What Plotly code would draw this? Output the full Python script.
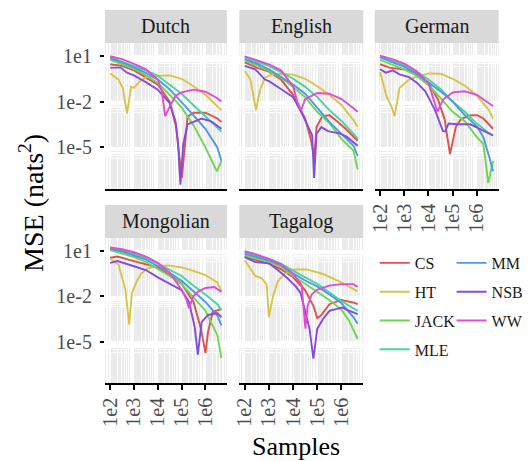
import plotly.graph_objects as go

W, H = 529, 461
FONT = "Liberation Serif"

LANGUAGES = ["Dutch", "English", "German", "Mongolian", "Tagalog"]
METHODS = ["CS", "HT", "JACK", "MLE", "MM", "NSB", "WW"]
COLORS = ["#E2504A", "#D9C446", "#6ED650", "#44D69E", "#4C9AE2", "#824CE2", "#E24CD2"]

X_TICKS = [1e2, 1e3, 1e4, 1e5, 1e6]
X_TICK_TEXT = ["1e2", "1e3", "1e4", "1e5", "1e6"]
Y_TICKS = [1e1, 1e-2, 1e-5]
Y_TICK_TEXT = ["1e1", "1e-2", "1e-5"]

# shared sample sizes (used by the smooth series)
GRID_N = [1e2, 3.16e2, 1e3, 3.16e3, 1e4, 3.16e4, 1e5, 3.16e5, 1e6, 3.16e6, 4.68e6]

# ---------------- Dutch ----------------
DUTCH_CS_N = [1e2, 3.16e2, 1e3, 3.16e3, 1e4, 3.16e4, 5.89e4, 1.02e5, 1.78e5, 3.16e5, 1e6, 3.16e6, 4.68e6]
DUTCH_CS_MSE = [2.75, 2.14, 1.10, 0.398, 0.129, 0.01, 2.14e-4, 1e-7, 1e-3, 1.86e-3, 1.86e-3, 7.76e-4, 4.68e-4]
DUTCH_HT_N = [1e2, 2.24e2, 3.39e2, 5.13e2, 7.59e2, 1e3, 1.78e3, 3.16e3, 1e4, 3.16e4, 1e5, 3.16e5, 1e6, 3.16e6, 4.68e6]
DUTCH_HT_MSE = [0.692, 0.275, 0.0776, 1.66e-3, 0.0912, 0.0776, 0.214, 0.380, 0.490, 0.513, 0.309, 0.1, 0.0275, 5.13e-3, 2.75e-3]
DUTCH_JACK_N = [1e2, 3.16e2, 1e3, 3.16e3, 1e4, 3.16e4, 1e5, 3.16e5, 1e6, 3.02e6, 4.68e6]
DUTCH_JACK_MSE = [5.37, 2.75, 1.35, 0.513, 0.166, 0.0275, 4.17e-3, 2.75e-4, 1e-5, 2.75e-7, 1.29e-6]
DUTCH_MLE_MSE = [7.76, 4.17, 2.29, 1.10, 0.490, 0.135, 0.0324, 5.75e-3, 1.05e-3, 1.86e-4, 1.10e-4]
DUTCH_MM_MSE = [6.61, 3.63, 1.74, 0.741, 0.275, 0.0631, 9.12e-3, 1.29e-3, 1.66e-4, 1e-5, 1.29e-6]
DUTCH_NSB_N = [1e2, 2.75e2, 5.13e2, 1e3, 3.16e3, 1e4, 3.16e4, 5.62e4, 7.08e4, 8.91e4, 1.17e5, 1.78e5, 3.16e5, 6.92e5, 1.74e6, 4.68e6]
DUTCH_NSB_MSE = [1.66, 1.66, 0.776, 0.513, 0.186, 0.0603, 7.76e-3, 4.68e-4, 1.66e-5, 3.63e-8, 1.66e-5, 3.24e-4, 4.68e-4, 7.76e-4, 5.13e-4, 1.66e-4]
DUTCH_WW_N = [1e2, 3.16e2, 1e3, 3.16e3, 1e4, 1.48e4, 2.04e4, 3.16e4, 5.62e4, 1e5, 3.16e5, 1e6, 3.16e6, 4.68e6]
DUTCH_WW_MSE = [9.12, 6.03, 2.95, 1.29, 0.275, 0.0468, 1.10e-3, 4.68e-3, 0.0240, 0.0398, 0.0603, 0.0437, 0.0166, 0.01]

# ---------------- English ----------------
ENGLISH_CS_N = [1e2, 3.16e2, 1e3, 3.16e3, 1e4, 3.16e4, 5.62e4, 7.41e4, 9.33e4, 1.58e5, 3.16e5, 5.89e5, 1.48e6, 4.68e6]
ENGLISH_CS_MSE = [3.63, 1.66, 0.912, 0.275, 0.0275, 7.76e-4, 2.75e-5, 1.66e-6, 2.14e-4, 1e-3, 1.29e-3, 6.03e-4, 1.66e-4, 2.75e-5]
ENGLISH_HT_N = [1e2, 1.74e2, 2.95e2, 4.37e2, 6.92e2, 1.29e3, 3.16e3, 1e4, 3.16e4, 1e5, 3.16e5, 1e6, 3.16e6, 4.68e6]
ENGLISH_HT_MSE = [1.0, 0.275, 2.75e-3, 0.0603, 0.363, 0.603, 0.631, 0.575, 0.309, 0.1, 0.0275, 6.03e-3, 6.03e-4, 2.14e-4]
ENGLISH_JACK_MSE = [4.68, 2.40, 1.0, 0.363, 0.0912, 0.0195, 2.14e-3, 3.98e-4, 3.63e-5, 6.03e-6, 3.63e-7]
ENGLISH_MLE_MSE = [7.76, 4.17, 2.14, 0.851, 0.309, 0.0912, 0.0195, 2.75e-3, 5.37e-4, 7.76e-5, 3.63e-5]
ENGLISH_MM_MSE = [6.03, 3.09, 1.29, 0.417, 0.129, 0.0324, 4.17e-3, 4.68e-4, 7.76e-5, 1.29e-5, 2.75e-6]
ENGLISH_NSB_N = [1e2, 2.75e2, 6.92e2, 1e3, 3.16e3, 1e4, 2.34e4, 4.37e4, 6.17e4, 7.41e4, 9.33e4, 1.48e5, 2.75e5, 4.37e5, 8.13e5, 1.74e6, 4.68e6]
ENGLISH_NSB_MSE = [2.14, 1.29, 0.275, 0.214, 0.0661, 0.0195, 1.66e-3, 2.14e-4, 6.03e-5, 1e-7, 7.76e-5, 2.14e-4, 1.17e-4, 1e-4, 8.51e-5, 4.68e-5, 1.29e-5]
ENGLISH_WW_N = [1e2, 3.16e2, 1e3, 3.16e3, 1e4, 1.48e4, 2.14e4, 3.16e4, 1e5, 3.16e5, 1e6, 3.16e6, 4.68e6]
ENGLISH_WW_MSE = [9.12, 5.13, 2.75, 1.10, 0.1, 0.01, 2.75e-3, 0.0145, 0.0363, 0.0324, 0.0145, 3.63e-3, 2.14e-3]

# ---------------- German ----------------
GERMAN_CS_N = [1e2, 2.51e2, 1e3, 3.16e3, 1e4, 2.51e4, 4.68e4, 7.76e4, 1.35e5, 2.14e5, 4.68e5, 1e6, 1.86e6, 4.68e6]
GERMAN_CS_MSE = [2.75, 1.66, 1.23, 0.776, 0.166, 0.0129, 6.61e-4, 3.63e-6, 2.14e-4, 6.61e-4, 1.23e-3, 1.29e-3, 7.76e-4, 1.66e-4]
GERMAN_HT_N = [1e2, 1.86e2, 2.95e2, 3.98e2, 6.31e2, 1e3, 1.58e3, 3.16e3, 1e4, 3.16e4, 1e5, 3.16e5, 1e6, 3.16e6, 4.68e6]
GERMAN_HT_MSE = [0.851, 0.0214, 4.68e-3, 1.10e-3, 0.0776, 0.151, 0.275, 0.417, 0.692, 0.661, 0.309, 0.110, 0.0240, 2.75e-3, 7.76e-4]
GERMAN_JACK_N = [1e2, 3.16e2, 1e3, 3.16e3, 1e4, 3.16e4, 1e5, 3.16e5, 1e6, 1.86e6, 2.95e6, 4.68e6]
GERMAN_JACK_MSE = [5.37, 2.75, 1.29, 0.513, 0.117, 0.0166, 2.14e-3, 5.13e-4, 4.68e-5, 1.66e-5, 4.68e-8, 1.29e-6]
GERMAN_MLE_MSE = [9.12, 4.68, 2.29, 0.955, 0.275, 0.0661, 0.01, 2.14e-3, 3.63e-4, 8.51e-5, 6.03e-5]
GERMAN_MM_N = [1e2, 3.16e2, 1e3, 3.16e3, 1e4, 3.16e4, 1e5, 3.16e5, 1e6, 1.86e6, 3.16e6, 4.68e6]
GERMAN_MM_MSE = [7.76, 3.98, 1.86, 0.661, 0.166, 0.0468, 0.01, 1.29e-3, 2.40e-4, 4.68e-5, 2.75e-6, 2.75e-7]
GERMAN_NSB_N = [1e2, 1.74e2, 3.39e2, 6.31e2, 1.58e3, 3.39e3, 7.41e3, 1.86e4, 3.98e4, 4.90e4, 6.76e4, 1.58e5, 5.37e5, 1.35e6, 2.51e6, 4.68e6]
GERMAN_NSB_MSE = [1.29, 0.776, 1.10, 0.603, 0.398, 0.166, 0.0468, 2.75e-3, 1.17e-4, 1.10e-4, 3.63e-4, 3.24e-4, 3.24e-4, 1.66e-4, 1e-4, 6.03e-5]
GERMAN_WW_N = [1e2, 3.16e2, 1e3, 3.16e3, 1e4, 1.58e4, 2.34e4, 3.98e4, 1e5, 3.16e5, 1e6, 3.16e6, 4.68e6]
GERMAN_WW_MSE = [10.0, 6.03, 3.09, 1.0, 0.166, 0.0129, 2.14e-3, 0.0129, 0.0398, 0.0468, 0.0275, 7.76e-3, 5.13e-3]

# ---------------- Mongolian ----------------
MONGOLIAN_CS_N = [1e2, 2.04e2, 1e3, 3.16e3, 1e4, 3.16e4, 1e5, 3.16e5, 6.46e5, 1e6, 1.29e6, 2.04e6, 4.68e6]
MONGOLIAN_CS_MSE = [3.39, 4.07, 2.04, 1.32, 0.776, 0.245, 0.0661, 4.17e-3, 7.24e-5, 1.78e-6, 4.47e-5, 9.33e-4, 1.41e-3]
MONGOLIAN_HT_N = [1e2, 2.24e2, 4.37e2, 6.31e2, 8.13e2, 1.29e3, 2.04e3, 3.72e3, 1e4, 3.16e4, 1e5, 3.16e5, 1e6, 3.16e6, 4.68e6]
MONGOLIAN_HT_MSE = [2.88, 1.20, 0.0269, 1.32e-4, 0.0148, 0.0933, 0.316, 0.661, 1.02, 1.02, 0.776, 0.468, 0.245, 0.0794, 0.0209]
MONGOLIAN_JACK_MSE = [11.0, 6.76, 3.72, 1.78, 0.603, 0.214, 0.0617, 7.94e-3, 1.10e-3, 2.69e-5, 8.51e-7]
MONGOLIAN_MLE_MSE = [14.8, 10.0, 6.17, 3.39, 1.38, 0.525, 0.214, 0.0490, 0.0129, 2.95e-3, 1.20e-3]
MONGOLIAN_MM_MSE = [12.9, 8.71, 4.79, 2.51, 0.933, 0.347, 0.102, 0.0209, 4.17e-3, 5.25e-4, 1.17e-4]
MONGOLIAN_NSB_N = [1e2, 2.04e2, 1e3, 3.16e3, 1e4, 3.16e4, 1e5, 2.04e5, 3.55e5, 4.79e5, 6.92e5, 1.29e6, 3.16e6, 4.68e6]
MONGOLIAN_NSB_MSE = [1.55, 2.04, 0.933, 0.525, 0.174, 0.0661, 0.0245, 4.17e-3, 9.33e-5, 1.41e-6, 1.95e-4, 5.75e-4, 7.76e-4, 4.07e-4]
MONGOLIAN_WW_N = [1e2, 3.16e2, 1e3, 3.16e3, 1e4, 3.16e4, 1e5, 1.58e5, 2.04e5, 3.16e5, 5.13e5, 1e6, 2.34e6, 4.68e6]
MONGOLIAN_WW_MSE = [16.2, 12.3, 7.76, 4.07, 1.55, 0.347, 0.0269, 6.17e-3, 1.62e-3, 0.01, 0.0209, 0.0347, 0.0398, 0.0191]

# ---------------- Tagalog ----------------
TAGALOG_CS_N = [1e2, 3.16e2, 1e3, 3.16e3, 1e4, 3.16e4, 6.92e4, 1e5, 1.48e5, 3.16e5, 1e6, 3.16e6, 4.68e6]
TAGALOG_CS_MSE = [4.07, 2.29, 1.38, 0.603, 0.174, 0.0245, 2.29e-3, 3.55e-4, 5.75e-4, 2.95e-3, 5.62e-3, 3.72e-3, 2.95e-3]
TAGALOG_HT_N = [1e2, 2.75e2, 5.13e2, 8.13e2, 1e3, 1.48e3, 2.34e3, 4.37e3, 1.10e4, 3.72e4, 1.74e5, 8.13e5, 4.68e6]
TAGALOG_HT_MSE = [2.29, 0.214, 0.151, 0.0562, 4.07e-4, 0.01, 0.0933, 0.288, 0.575, 0.575, 0.288, 0.0933, 0.0209]
TAGALOG_JACK_N = [1e2, 3.16e2, 1e3, 3.16e3, 1e4, 3.16e4, 1e5, 3.16e5, 1e6, 2.04e6, 4.68e6]
TAGALOG_JACK_MSE = [4.79, 2.88, 1.78, 0.851, 0.214, 0.0661, 0.0191, 5.62e-3, 1.26e-3, 2.51e-4, 1.51e-5]
TAGALOG_MLE_MSE = [7.76, 4.79, 2.88, 1.38, 0.468, 0.174, 0.0661, 0.0182, 4.79e-3, 1.55e-3, 1.10e-3]
TAGALOG_MM_MSE = [6.17, 3.72, 2.29, 1.10, 0.316, 0.107, 0.0437, 0.0129, 3.39e-3, 4.07e-4, 1.51e-4]
TAGALOG_NSB_N = [1e2, 2.75e2, 1e3, 2.34e3, 5.89e3, 1.29e4, 2.04e4, 3.24e4, 4.79e4, 6.92e4, 1e5, 1.74e5, 3.24e5, 5.89e5, 1.10e6, 2.04e6, 4.68e6]
TAGALOG_NSB_MSE = [3.72, 1.78, 1.45, 0.525, 0.151, 0.0437, 0.0166, 8.51e-4, 7.24e-5, 7.76e-7, 7.24e-5, 3.16e-4, 1.10e-3, 1.41e-3, 1.78e-3, 1.10e-3, 6.61e-4]
TAGALOG_WW_N = [1e2, 3.16e2, 1e3, 3.16e3, 1e4, 2.24e4, 3.24e4, 3.98e4, 5.89e4, 1e5, 3.16e5, 1e6, 3.16e6, 4.68e6]
TAGALOG_WW_MSE = [9.12, 5.50, 2.88, 1.26, 0.288, 0.0562, 7.24e-5, 2.29e-3, 0.0129, 0.0269, 0.0490, 0.0617, 0.0617, 0.0398]

# ------------------------------------------------------------------
g = globals()
SERIES = {}
for lang in LANGUAGES:
    for m in METHODS:
        key = f"{lang.upper()}_{m}"
        SERIES[(lang, m)] = (g.get(key + "_N", GRID_N), g[key + "_MSE"])

# panel geometry (pixels)
COLS = [(103, 230), (243, 372), (384, 513)]
ROWS = [(43, 189), (238, 383)]
STRIP_H = 33
X_RANGE = [1.78, 6.9]
Y_RANGE = [-7.72, 1.83]

MINOR_X = [m * 10 ** k for k in range(1, 7) for m in range(2, 10)]
MINOR_Y = [m * 10.0 ** k for k in (0, -3, -6) for m in range(2, 10)]

fig = go.Figure()

for i, lang in enumerate(LANGUAGES):
    sfx = "" if i == 0 else str(i + 1)
    for j, m in enumerate(METHODS):
        n, mse = SERIES[(lang, m)]
        fig.add_trace(go.Scatter(
            x=n, y=mse, mode="lines", name=m,
            line=dict(color=COLORS[j], width=1.9),
            xaxis="x" + sfx, yaxis="y" + sfx,
            legendgroup=m, showlegend=(i == 0),
            legend="legend" if j < 4 else "legend2",
        ))

layout = dict(
    width=W, height=H,
    margin=dict(l=0, r=0, t=0, b=0),
    paper_bgcolor="white", plot_bgcolor="#EBEBEB",
    font=dict(family=FONT, color="#1A1A1A"),
    shapes=[], annotations=[],
)

for i, lang in enumerate(LANGUAGES):
    r, c = divmod(i, 3)
    x0, x1 = COLS[c]
    y0, y1 = ROWS[r]
    sfx = "" if i == 0 else str(i + 1)
    show_x = i >= 2
    show_y = c == 0
    layout["xaxis" + sfx] = dict(
        domain=[x0 / W, x1 / W], anchor="y" + sfx, type="log", range=X_RANGE,
        tickmode="array", tickvals=X_TICKS, ticktext=X_TICK_TEXT,
        showticklabels=show_x, ticks="outside" if show_x else "",
        ticklen=5, tickwidth=1.5, tickcolor="black", tickangle=-90,
        tickfont=dict(size=20, color="#4D4D4D", family=FONT),
        showline=True, linecolor="black", linewidth=1.5,
        showgrid=True, gridcolor="white", gridwidth=1.4,
        minor=dict(tickmode="array", tickvals=MINOR_X, showgrid=True,
                   gridcolor="white", gridwidth=1.0, ticks=""),
        zeroline=False, fixedrange=True,
    )
    layout["yaxis" + sfx] = dict(
        domain=[1 - y1 / H, 1 - y0 / H], anchor="x" + sfx, type="log", range=Y_RANGE,
        tickmode="array", tickvals=Y_TICKS, ticktext=Y_TICK_TEXT,
        showticklabels=show_y, ticks="outside" if show_y else "",
        ticklen=4, tickwidth=1.5, tickcolor="black", ticklabelstandoff=4,
        tickfont=dict(size=20, color="#4D4D4D", family=FONT),
        showline=False,
        showgrid=True, gridcolor="white", gridwidth=1.4,
        minor=dict(tickmode="array", tickvals=MINOR_Y, showgrid=True,
                   gridcolor="white", gridwidth=1.0, ticks=""),
        zeroline=False, fixedrange=True,
    )
    # strip
    layout["shapes"].append(dict(
        type="rect", xref="paper", yref="paper",
        x0=x0 / W, x1=x1 / W, y0=1 - y0 / H, y1=1 - (y0 - STRIP_H) / H,
        fillcolor="#D9D9D9", line=dict(width=0), layer="below",
    ))
    layout["annotations"].append(dict(
        text=lang, xref="paper", yref="paper",
        x=(x0 + x1) / 2 / W, y=1 - (y0 - STRIP_H / 2) / H,
        xanchor="center", yanchor="middle", showarrow=False,
        font=dict(size=20, color="#1A1A1A", family=FONT),
    ))

layout["annotations"].append(dict(
    text="Samples", xref="paper", yref="paper", x=302 / W, y=1 - 446 / H,
    xanchor="center", yanchor="middle", showarrow=False,
    font=dict(size=26, color="black", family=FONT),
))
layout["annotations"].append(dict(
    text="MSE (nats<sup>2</sup>)", xref="paper", yref="paper", x=27 / W, y=1 - 203 / H,
    xanchor="center", yanchor="middle", showarrow=False, textangle=-90,
    font=dict(size=28, color="black", family=FONT),
))

legend_common = dict(
    yanchor="top", xanchor="left", bgcolor="rgba(0,0,0,0)", borderwidth=0,
    font=dict(size=16, color="#1A1A1A", family=FONT),
    tracegroupgap=5, traceorder="grouped",
)
layout["legend"] = dict(x=384 / W, y=1 - 246 / H, **legend_common)
layout["legend2"] = dict(x=464 / W, y=1 - 246 / H, **legend_common)

fig.update_layout(**layout)
fig.write_html("out.html", config={"displayModeBar": False},
               post_script="document.body.style.margin='0px';")
